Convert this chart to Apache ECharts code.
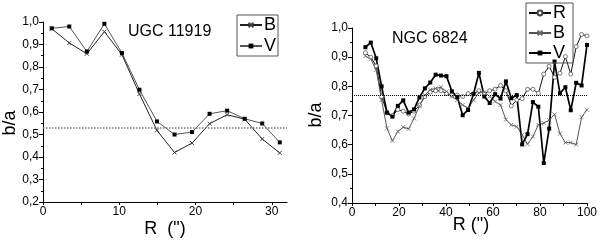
<!DOCTYPE html>
<html>
<head>
<meta charset="utf-8">
<script src="https://cdn.jsdelivr.net/npm/echarts@6/dist/echarts.min.js"></script>
<style>html,body{margin:0;padding:0;background:#fff}#c{width:600px;height:245px}</style>
</head>
<body>
<div id="c"></div>
<script>
// ---- data ----
var leftTitle = 'UGC 11919';
var rightTitle = 'NGC 6824';
var leftX = [1.15, 3.45, 5.75, 8.05, 10.35, 12.65, 14.95, 17.25, 19.55, 21.85, 24.15, 26.45, 28.75, 31.05];
var leftB = [0.970, 0.907, 0.859, 0.957, 0.855, 0.680, 0.518, 0.420, 0.462, 0.548, 0.588, 0.568, 0.480, 0.418];
var leftV = [0.972, 0.980, 0.869, 0.992, 0.862, 0.699, 0.558, 0.500, 0.511, 0.592, 0.606, 0.570, 0.549, 0.465];
var leftMean = 0.532;

var rightX = [5.7, 8.0, 10.3, 12.6, 14.9, 17.2, 19.5, 21.8, 24.1, 26.4, 28.7, 31.0, 33.3, 35.6, 37.9, 40.2, 42.5, 44.8, 47.1, 49.4, 51.7, 54.0, 56.3, 58.6, 60.9, 63.2, 65.5, 67.8, 70.1, 72.4, 74.7, 77.0, 79.3, 81.6, 83.9, 86.2, 88.5, 90.8, 93.1, 95.4, 97.7, 100.0];
var rightR = [0.915, 0.900, 0.870, 0.765, 0.710, 0.700, 0.720, 0.715, 0.705, 0.715, 0.735, 0.765, 0.780, 0.785, 0.785, 0.775, 0.770, 0.770, 0.765, 0.775, 0.775, 0.785, 0.775, 0.785, 0.790, 0.803, 0.785, 0.733, 0.753, 0.758, 0.790, 0.790, 0.776, 0.842, 0.869, 0.831, 0.845, 0.902, 0.842, 0.936, 0.978, 0.973];
var rightB = [0.904, 0.893, 0.856, 0.753, 0.656, 0.613, 0.645, 0.660, 0.654, 0.690, 0.733, 0.770, 0.788, 0.793, 0.797, 0.782, 0.765, 0.753, 0.736, 0.725, 0.753, 0.778, 0.780, 0.765, 0.748, 0.736, 0.686, 0.668, 0.662, 0.634, 0.602, 0.628, 0.668, 0.674, 0.684, 0.704, 0.638, 0.607, 0.607, 0.600, 0.694, 0.720];
var rightV = [0.934, 0.950, 0.896, 0.800, 0.710, 0.696, 0.733, 0.752, 0.710, 0.721, 0.762, 0.793, 0.813, 0.840, 0.837, 0.835, 0.783, 0.763, 0.701, 0.719, 0.774, 0.846, 0.765, 0.743, 0.773, 0.758, 0.817, 0.759, 0.770, 0.601, 0.636, 0.746, 0.730, 0.537, 0.655, 0.885, 0.776, 0.797, 0.718, 0.812, 0.803, 0.942];
var rightMean = 0.766;

var leftXLabels = [0, 10, 20, 30];
var leftXTicks = [0, 5, 10, 15, 20, 25, 30];

function pairs(xs, ys) { return xs.map(function (x, i) { return [x, ys[i]]; }); }

var FONT = 'Liberation Sans, Arial, sans-serif';
var xSym = 'path://M0,0L10,10M10,0L0,10';
function comma(v) { return v.toFixed(1).replace('.', ','); }

function yAxisCfg(idx, min) {
  return {
    type: 'value', gridIndex: idx, min: min, max: 1.0, interval: 0.1,
    axisLine: { show: true, lineStyle: { color: '#000', width: 1 } },
    axisTick: { show: true, length: 4, lineStyle: { color: '#000' } },
    minorTick: { show: true, splitNumber: 2, length: 2, lineStyle: { color: '#000' } },
    splitLine: { show: false },
    axisLabel: { color: '#000', fontSize: 12, fontFamily: FONT, margin: 4, formatter: comma }
  };
}

var chart = echarts.init(document.getElementById('c'), null, { renderer: 'canvas' });
chart.setOption({
  animation: false,
  backgroundColor: '#fff',
  grid: [
    { left: 43, top: 22, width: 244, height: 180 },
    { left: 352, top: 28, width: 238, height: 175 }
  ],
  xAxis: [
    {
      type: 'value', gridIndex: 0, min: 0, max: 32,
      axisLine: { show: true, onZero: false, lineStyle: { color: '#000', width: 1 } },
      axisTick: { show: true, length: 3, customValues: leftXTicks, lineStyle: { color: '#000' } },
      splitLine: { show: false },
      axisLabel: { color: '#000', fontSize: 12, fontFamily: FONT, margin: 4, customValues: leftXLabels }
    },
    {
      type: 'value', gridIndex: 1, min: 0, max: 100, interval: 20,
      axisLine: { show: true, onZero: false, lineStyle: { color: '#000', width: 1 } },
      axisTick: { show: true, length: 3, lineStyle: { color: '#000' } },
      minorTick: { show: true, splitNumber: 2, length: 3, lineStyle: { color: '#000' } },
      splitLine: { show: false },
      axisLabel: { color: '#000', fontSize: 12, fontFamily: FONT, margin: 4 }
    }
  ],
  yAxis: [yAxisCfg(0, 0.2), yAxisCfg(1, 0.4)],
  legend: [
    {
      data: ['B', 'V'], orient: 'vertical', left: 237, top: 15,
      padding: [1, 2, 1, 2], itemGap: 3, itemWidth: 22, itemHeight: 6,
      borderColor: '#555', borderWidth: 1,
      textStyle: { fontSize: 18, fontFamily: FONT, color: '#000', padding: [0, 0, 0, -3] },
      selectedMode: false
    },
    {
      data: ['R ', 'B ', 'V '], orient: 'vertical', left: 526, top: 3,
      padding: [1, 2, 1, 2], itemGap: 2, itemWidth: 22, itemHeight: 6,
      borderColor: '#555', borderWidth: 1,
      textStyle: { fontSize: 18, fontFamily: FONT, color: '#000', padding: [0, 0, 0, -3] },
      selectedMode: false
    }
  ],
  graphic: [
    { type: 'text', left: 128, top: 24, style: { text: leftTitle, font: '16px ' + FONT, fill: '#000' } },
    { type: 'text', left: 392, top: 31, style: { text: rightTitle, font: '16px ' + FONT, fill: '#000' } },
    { type: 'text', x: 10, y: 123, rotation: Math.PI / 2, style: { text: 'b/a', font: '18px ' + FONT, fill: '#000', align: 'center', verticalAlign: 'middle' } },
    { type: 'text', x: 316, y: 115, rotation: Math.PI / 2, style: { text: 'b/a', font: '18px ' + FONT, fill: '#000', align: 'center', verticalAlign: 'middle' } },
    { type: 'text', x: 165, y: 229, style: { text: 'R  (")', font: '18px ' + FONT, fill: '#000', align: 'center', verticalAlign: 'middle' } },
    { type: 'text', x: 471, y: 225, style: { text: 'R (")', font: '18px ' + FONT, fill: '#000', align: 'center', verticalAlign: 'middle' } }
  ],
  series: [
    {
      name: 'B', type: 'line', xAxisIndex: 0, yAxisIndex: 0, data: pairs(leftX, leftB),
      symbol: xSym, symbolSize: 4,
      lineStyle: { color: '#222', width: 1 },
      itemStyle: { color: 'rgba(0,0,0,0)', borderColor: '#444', borderWidth: 1 }
    },
    {
      name: 'V', type: 'line', xAxisIndex: 0, yAxisIndex: 0, data: pairs(leftX, leftV),
      symbol: 'rect', symbolSize: 4,
      lineStyle: { color: '#555', width: 1 },
      itemStyle: { color: '#000' },
      markLine: {
        silent: true, symbol: 'none', label: { show: false },
        lineStyle: { color: '#777', type: 'dotted', width: 1.5 },
        data: [{ yAxis: leftMean }]
      }
    },
    {
      name: 'R ', type: 'line', xAxisIndex: 1, yAxisIndex: 1, data: pairs(rightX, rightR),
      symbol: 'circle', symbolSize: 4,
      lineStyle: { color: '#111', width: 1 },
      itemStyle: { color: '#fff', borderColor: '#444', borderWidth: 0.7 }
    },
    {
      name: 'B ', type: 'line', xAxisIndex: 1, yAxisIndex: 1, data: pairs(rightX, rightB),
      symbol: xSym, symbolSize: 4,
      lineStyle: { color: '#555', width: 1 },
      itemStyle: { color: 'rgba(0,0,0,0)', borderColor: '#666', borderWidth: 0.8 }
    },
    {
      name: 'V ', type: 'line', xAxisIndex: 1, yAxisIndex: 1, data: pairs(rightX, rightV),
      symbol: 'rect', symbolSize: 4,
      lineStyle: { color: '#000', width: 1.7 },
      itemStyle: { color: '#000' },
      markLine: {
        silent: true, symbol: 'none', label: { show: false },
        lineStyle: { color: '#000', type: 'dotted', width: 1 },
        data: [{ yAxis: rightMean }]
      }
    }
  ]
});
</script>
</body>
</html>
